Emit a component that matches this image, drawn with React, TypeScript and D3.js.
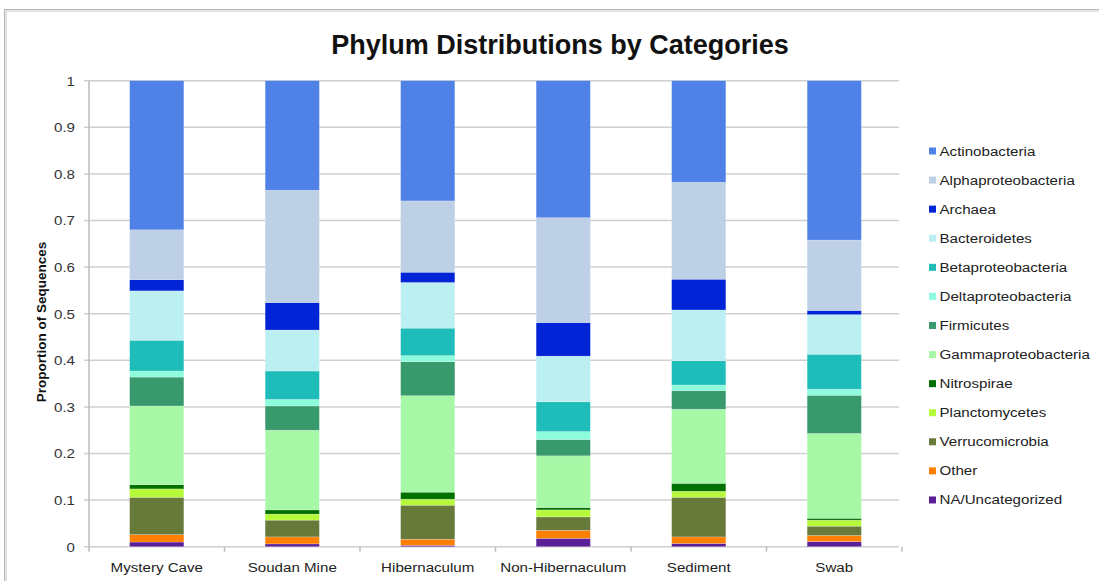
import React from "react";
import * as d3 from "d3";

const categories = ["Mystery Cave", "Soudan Mine", "Hibernaculum", "Non-Hibernaculum", "Sediment", "Swab"];

// legend order (top to bottom); stacked bottom-up in reverse
const phyla = [
  "Actinobacteria",
  "Alphaproteobacteria",
  "Archaea",
  "Bacteroidetes",
  "Betaproteobacteria",
  "Deltaproteobacteria",
  "Firmicutes",
  "Gammaproteobacteria",
  "Nitrospirae",
  "Planctomycetes",
  "Verrucomicrobia",
  "Other",
  "NA/Uncategorized",
];

const actinobacteria = [0.32, 0.235, 0.258, 0.294, 0.218, 0.342];
const alphaproteobacteria = [0.107, 0.241, 0.153, 0.225, 0.208, 0.151];
const archaea = [0.024, 0.059, 0.022, 0.072, 0.066, 0.009];
const bacteroidetes = [0.106, 0.088, 0.098, 0.098, 0.109, 0.085];
const betaproteobacteria = [0.066, 0.061, 0.059, 0.064, 0.052, 0.075];
const deltaproteobacteria = [0.013, 0.014, 0.013, 0.017, 0.012, 0.013];
const firmicutes = [0.062, 0.052, 0.073, 0.035, 0.04, 0.082];
const gammaproteobacteria = [0.169, 0.171, 0.207, 0.111, 0.159, 0.182];
const nitrospirae = [0.009, 0.009, 0.015, 0.005, 0.017, 0.004];
const planctomycetes = [0.018, 0.013, 0.013, 0.015, 0.013, 0.013];
const verrucomicrobia = [0.08, 0.036, 0.073, 0.029, 0.085, 0.02];
const other = [0.016, 0.015, 0.013, 0.017, 0.014, 0.013];
const naUncategorized = [0.01, 0.006, 0.003, 0.018, 0.007, 0.011];

const seriesValues = [
  actinobacteria,
  alphaproteobacteria,
  archaea,
  bacteroidetes,
  betaproteobacteria,
  deltaproteobacteria,
  firmicutes,
  gammaproteobacteria,
  nitrospirae,
  planctomycetes,
  verrucomicrobia,
  other,
  naUncategorized,
];

const colors = [
  "#4F81E6",
  "#BDD0E6",
  "#0024D6",
  "#BCEFF2",
  "#1FBDBA",
  "#8CFCDC",
  "#389A6C",
  "#A6F8A6",
  "#007000",
  "#B6F93A",
  "#687A3A",
  "#FF7F00",
  "#5A1E96",
];

const yTicks = [0, 0.1, 0.2, 0.3, 0.4, 0.5, 0.6, 0.7, 0.8, 0.9, 1];

const W = 1099;
const H = 581;
const FONT = "'Liberation Sans', Arial, Helvetica, sans-serif";
const SX = 1.12; // horizontal widening of small text

export default function App() {
  const x = d3.scaleBand<string>().domain(categories).range([89, 902]).paddingInner(0.6).paddingOuter(0.3);
  const y = d3.scaleLinear().domain([0, 1]).range([546.7, 80.7]);

  const table = categories.map((c, i) => {
    const row: Record<string, any> = { category: c };
    phyla.forEach((p, j) => {
      row[p] = seriesValues[j][i];
    });
    return row;
  });
  const stackKeys = [...phyla].reverse();
  const stacked = d3.stack<any>().keys(stackKeys)(table);
  const colorOf = (k: string) => colors[phyla.indexOf(k)];

  const boundaries = d3.range(categories.length + 1).map((i) => 89 + i * x.step());

  return (
    <svg width={W} height={H} style={{ position: "absolute", left: 0, top: 0, background: "#fff" }} fontFamily={FONT}>
      <rect x={0} y={0} width={W} height={H} fill="#fff" />
      {/* frame */}
      <rect x={5.5} y={10.5} width={1200} height={700} fill="none" stroke="#e2e2e2" strokeWidth={3} />
      <rect x={4.5} y={9.5} width={1200} height={700} fill="none" stroke="#b8b8b8" strokeWidth={1} />

      <text x={560} y={54} textAnchor="middle" fontSize={27} fontWeight="bold" fill="#111">
        Phylum Distributions by Categories
      </text>

      {/* gridlines */}
      {yTicks.map((t) => (
        <g key={t}>
          <line x1={84} x2={899} y1={y(t)} y2={y(t)} stroke="#cfcfcf" strokeWidth={1.5} />
          <text
            transform={`translate(75, ${y(t) + 4.8}) scale(${SX}, 1)`}
            textAnchor="end"
            fontSize={13.5}
            fill="#333"
          >
            {String(t)}
          </text>
        </g>
      ))}
      <line x1={89} x2={89} y1={y(1)} y2={y(0)} stroke="#bdbdbd" strokeWidth={1.5} />
      {boundaries.map((bx, i) => (
        <line key={i} x1={bx} x2={bx} y1={y(0)} y2={y(0) + 5} stroke="#bdbdbd" strokeWidth={1.5} />
      ))}

      <text
        transform={`translate(46, 322) rotate(-90)`}
        textAnchor="middle"
        fontSize={13.5}
        fontWeight="bold"
        fill="#111"
      >
        Proportion of Sequences
      </text>

      {/* bars */}
      {stacked.map((layer) => (
        <g key={layer.key} fill={colorOf(layer.key)}>
          {layer.map((d, i) => (
            <rect
              key={i}
              x={x(categories[i])}
              width={x.bandwidth()}
              y={y(d[1])}
              height={Math.max(0, y(d[0]) - y(d[1]))}
              stroke="rgba(255,255,255,0.35)"
              strokeWidth={0.6}
            />
          ))}
        </g>
      ))}

      {categories.map((c) => (
        <text
          key={c}
          transform={`translate(${(x(c) as number) + x.bandwidth() / 2}, 572) scale(${SX}, 1)`}
          textAnchor="middle"
          fontSize={13.5}
          fill="#222"
        >
          {c}
        </text>
      ))}

      {/* legend */}
      {phyla.map((p, i) => (
        <g key={p} transform={`translate(929, ${147.5 + i * 29.08})`}>
          <rect x={0} y={0} width={7} height={7} fill={colors[i]} />
          <text transform={`translate(10.5, 8) scale(${SX}, 1)`} fontSize={13.5} fill="#222">
            {p}
          </text>
        </g>
      ))}
    </svg>
  );
}
